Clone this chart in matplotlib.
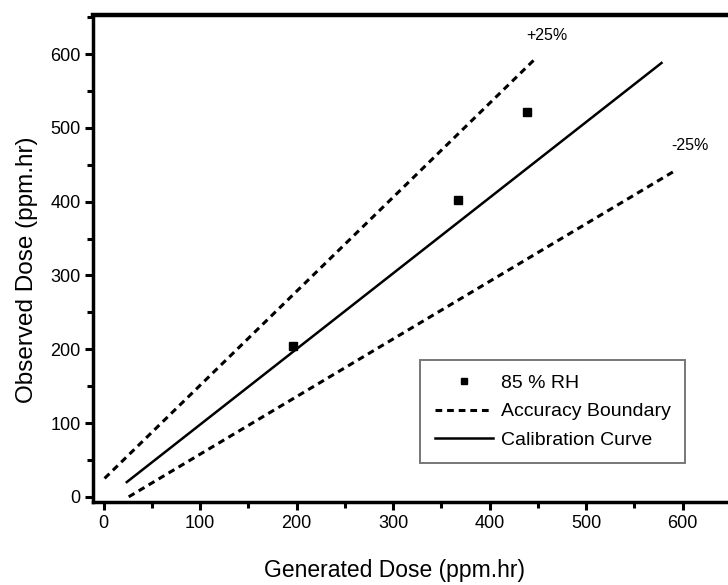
import matplotlib
matplotlib.use("Agg")
import matplotlib.pyplot as plt
from matplotlib.ticker import MultipleLocator

plt.rcParams['font.family'] = ['Liberation Sans', 'DejaVu Sans']

# data
rh85_x = [196, 367, 439]
rh85_y = [205, 402, 522]

calib_x = [24, 578]
calib_y = [20, 588]

upper_x = [1, 449]
upper_y = [25, 596]

lower_x = [26, 592]
lower_y = [0, 442]

x_ticks = [0, 100, 200, 300, 400, 500, 600]
y_ticks = [0, 100, 200, 300, 400, 500, 600]

W, H = 728, 585
fig = plt.figure(figsize=(W / 100, H / 100), dpi=100)
ax = fig.add_axes([93 / W, (H - 502) / H, 638 / W, (502 - 15) / H])

ax.plot(upper_x, upper_y, color='black', lw=2.2, linestyle=(0, (2.2, 1.6)),
        label='Accuracy Boundary')
ax.plot(lower_x, lower_y, color='black', lw=2.2, linestyle=(0, (2.2, 1.6)))
ax.plot(calib_x, calib_y, color='black', lw=1.8, label='Calibration Curve')
ax.plot(rh85_x, rh85_y, linestyle='none', marker='s', markersize=6,
        color='black', label='85 % RH')

ax.text(459, 625, '+25%', fontsize=11.5, ha='center', va='center')
ax.text(607, 476, '-25%', fontsize=11.5, ha='center', va='center')

ax.set_xlim(-11, 650)
ax.set_ylim(-7, 653)
ax.set_xticks(x_ticks)
ax.set_yticks(y_ticks)
ax.xaxis.set_minor_locator(MultipleLocator(50))
ax.yaxis.set_minor_locator(MultipleLocator(50))
ax.tick_params(which='major', direction='out', length=6, width=2.2,
               labelsize=13, pad=3)
ax.tick_params(which='minor', direction='out', length=4, width=2.2)

for side in ['left', 'bottom']:
    ax.spines[side].set_linewidth(2.5)
ax.spines['top'].set_linewidth(3.2)
ax.spines['right'].set_linewidth(2.5)

ax.set_xlabel('Generated Dose (ppm.hr)', fontsize=16.5, labelpad=20)
ax.set_ylabel('Observed Dose (ppm.hr)', fontsize=17.5, labelpad=9)
ax.xaxis.label.set_x(0.473)
ax.yaxis.label.set_y(0.476)

handles, labels = ax.get_legend_handles_labels()
order = [2, 0, 1]
leg = ax.legend([handles[i] for i in order], [labels[i] for i in order],
                loc='upper left', bbox_to_anchor=(420 / W, 1 - 360 / H),
                bbox_transform=fig.transFigure, borderaxespad=0,
                fontsize=14, frameon=True, fancybox=False,
                handlelength=3.0, handletextpad=0.4, borderpad=0.75,
                labelspacing=0.55, markerscale=0.8)
leg.get_frame().set_edgecolor('#555555')
leg.get_frame().set_linewidth(1.4)

fig.savefig('out.png', dpi=100)
